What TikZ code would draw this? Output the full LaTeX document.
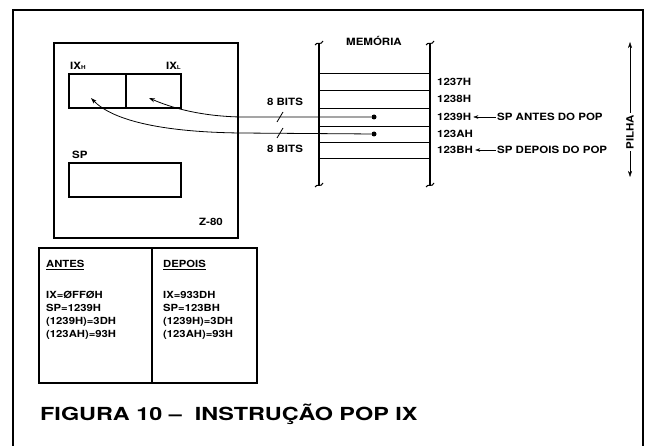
\documentclass[tikz,border=0pt]{standalone}
\usepackage{fontspec}
\setmainfont{TeX Gyre Heros}[FakeStretch=1.15]
\newfontfamily\titlefont{TeX Gyre Heros}[FakeStretch=1.3]
\usetikzlibrary{arrows.meta}
\begin{document}
\begin{tikzpicture}[x=1pt,y=-1pt,
    lbl/.style={font=\bfseries\fontsize{10}{11}\selectfont,inner sep=0pt},
    tbl/.style={font=\bfseries\fontsize{9.8}{10}\selectfont,inner sep=0pt,anchor=base west},
    regbox/.style={draw,line width=1.4pt,inner sep=0pt,minimum height=34pt},
    memwall/.style={line width=1.6pt},
    cellline/.style={line width=0.7pt},
    busline/.style={line width=0.8pt,-{Stealth[length=6pt,width=4pt]}},
    dot/.style={circle,fill,inner sep=0pt,minimum size=5pt}]

    \useasboundingbox (0,0) rectangle (650,446);

    % Frame of the figure, open at the bottom
    \draw[line width=1.2pt] (13,446) -- (13,10) -- (643,10) -- (643,446);

    % Z-80 and its registers
    \draw[line width=1.2pt] (54,43) rectangle (238,238);
    \node[lbl,anchor=base east] (cpu) at (223,226) {Z-80};
    \node[regbox,minimum width=57pt] (ixh) at (97.5,91) {};
    \node[regbox,minimum width=55pt] (ixl) at (153.5,91) {};
    \node[lbl,anchor=base west] (ixhname) at (70,70) {IX{\fontsize{5.5}{6}\selectfont H}};
    \node[lbl,anchor=base east] (ixlname) at (181,70) {IX{\fontsize{5.5}{6}\selectfont L}};
    \node[lbl,anchor=base west] (spname) at (72,159) {SP};
    \node[regbox,minimum width=112pt] (spreg) at (125,180) {};

    % Memory, broken off at top and bottom
    \foreach \xw in {319,430} {
        \draw[memwall] (\xw,44) -- (\xw,185);
        \draw[line width=1pt] (\xw-4,45) .. controls (\xw-2,41) and (\xw+2,46) .. (\xw+4,41);
        \draw[line width=1pt] (\xw-4,187) .. controls (\xw-2,183) and (\xw+2,188) .. (\xw+4,183);
    }
    \foreach \yc in {73,90,108,126,142,158}
        \draw[cellline] (319,\yc) -- (430,\yc);
    \node[lbl] (memname) at (374,41) {MEMÓRIA};

    % Addresses
    \node[lbl,anchor=west] (a1237) at (437,81.5) {1237H};
    \node[lbl,anchor=west] (a1238) at (437,99) {1238H};
    \node[lbl,anchor=west] (a1239) at (437,117) {1239H};
    \node[lbl,anchor=west] (a123a) at (437,134) {123AH};
    \node[lbl,anchor=west] (a123b) at (437,150) {123BH};
    \node[lbl,anchor=west] (spantes) at (497,117) {SP ANTES DO POP};
    \node[lbl,anchor=west] (spdepois) at (497,150) {SP DEPOIS DO POP};
    \draw[-{Stealth[length=5pt,width=3.5pt]},shorten <=1.5pt,shorten >=2pt] (spantes.west) -- (a1239.east);
    \draw[-{Stealth[length=5pt,width=3.5pt]},shorten <=1.5pt,shorten >=2pt] (spdepois.west) -- (a123b.east);

    % Stack direction
    \node[lbl,rotate=90,fill=white,inner sep=2pt] (pilha) at (630,132) {PILHA};
    \coordinate (ptop) at (630,42);
    \coordinate (pbot) at (630,177);
    \draw[-{Stealth[length=6pt,width=4pt]}] (pilha) -- (ptop);
    \draw[-{Stealth[length=6pt,width=4pt]}] (pilha) -- (pbot);

    % Bytes popped into IX
    \node[dot] (hi) at (374,117) {};
    \node[dot] (lo) at (374,134) {};
    \coordinate (tipl) at (149,98);
    \coordinate (tiph) at (91,98);
    \draw[busline] (hi) -- (240,117) .. controls (200,116) and (172,108) .. (tipl);
    \draw[busline] (lo) -- (240,133) .. controls (160,132) and (112,120) .. (tiph);
    \draw[line width=0.8pt] (277,122) -- (283,112); % bus width marks
    \draw[line width=0.8pt] (277,138) -- (283,128);
    \node[lbl] (bitsa) at (285,102) {8 BITS};
    \node[lbl] (bitsb) at (285,149) {8 BITS};

    % Before and after
    \draw[line width=1.2pt] (39,248) rectangle (257,383);
    \draw[line width=1.2pt] (152,248) -- (152,383);
    \node[tbl] (antes) at (46,268) {\underline{ANTES}};
    \node[tbl] (ixa) at (46,298) {IX=ØFFØH};
    \node[tbl] (spa) at (46,311) {SP=1239H};
    \node[tbl] (m39a) at (46,324) {(1239H)=3DH};
    \node[tbl] (m3aa) at (46,337) {(123AH)=93H};
    \node[tbl] (depois) at (163,268) {\underline{DEPOIS}};
    \node[tbl] (ixd) at (163,298) {IX=933DH};
    \node[tbl] (spd) at (163,311) {SP=123BH};
    \node[tbl] (m39d) at (163,324) {(1239H)=3DH};
    \node[tbl] (m3ad) at (163,337) {(123AH)=93H};

    % Caption
    \node[font=\titlefont\bfseries\fontsize{18}{20}\selectfont,anchor=base west,inner sep=0pt] (titulo) at (40,420) {FIGURA 10 \textendash\ \ INSTRUÇÃO POP IX};

\end{tikzpicture}
\end{document}
